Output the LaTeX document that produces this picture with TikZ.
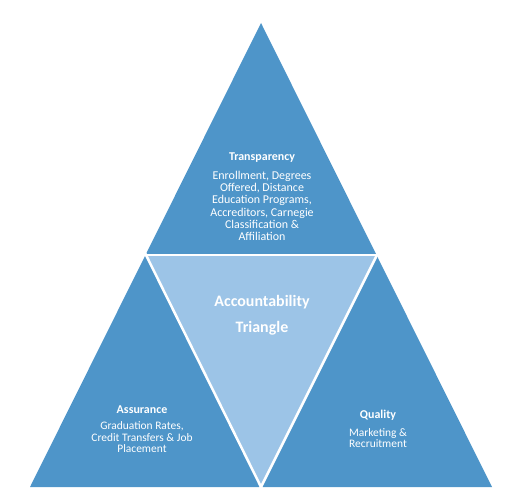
\documentclass[tikz,border=0pt]{standalone}
\usepackage{fontspec}
\setmainfont{Carlito}
\usetikzlibrary{positioning}
\definecolor{darkblue}{HTML}{4E95C9}
\definecolor{lightblue}{HTML}{9CC4E7}
\tikzset{
  title/.style={text=white, align=center, font=\bfseries\fontsize{12}{12.4}\selectfont},
  body/.style={text=white, align=center, font=\fontsize{12}{12.4}\selectfont},
  gap/.style={white, line width=2.5bp, shorten <=-3bp, shorten >=-3bp}
}

\begin{document}
\begin{tikzpicture}[x=1bp,y=-1bp]
    \useasboundingbox (0,0) rectangle (523,498);
    \coordinate (top) at (261,23);
    \coordinate (bl) at (30,487);
    \coordinate (br) at (492,487);
    \coordinate (ml) at (146,255);
    \coordinate (mr) at (377,255);
    \coordinate (mb) at (261,487);
    % outer and inner triangles
    \fill[darkblue] (top) -- (br) -- (bl) -- cycle;
    \fill[lightblue] (ml) -- (mr) -- (mb) -- cycle;
    \draw[gap] (ml) -- (mr);
    \draw[gap] (ml) -- (mb);
    \draw[gap] (mr) -- (mb);
    % texts
    \node[title] (tr) at (262,158) {Transparency};
    \node[body, below=1bp of tr] (trtext) {Enrollment, Degrees\\Offered, Distance\\Education Programs,\\Accreditors, Carnegie\\Classification \&\\Affiliation};
    \node[title, font=\bfseries\fontsize{16}{26}\selectfont] (acc) at (262,315) {Accountability\\Triangle};
    \node[title] (as) at (142,410) {Assurance};
    \node[body, below=1bp of as, font=\fontsize{11.5}{11.5}\selectfont] (astext) {Graduation Rates,\\Credit Transfers \& Job\\Placement};
    \node[title] (qu) at (378,415) {Quality};
    \node[body, below=1bp of qu, font=\fontsize{11.5}{11.5}\selectfont] (qutext) {Marketing \&\\Recruitment};
\end{tikzpicture}
\end{document}
